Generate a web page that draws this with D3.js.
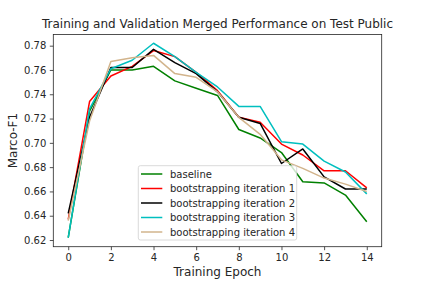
<!DOCTYPE html>
<html>
<head>
<meta charset="utf-8">
<script src="https://cdn.jsdelivr.net/npm/d3@7"></script>
<style>
  body { margin: 0; background: #fff; }
  text { font-family: "DejaVu Sans", sans-serif; fill: #262626; }
</style>
</head>
<body>
<div id="chart"></div>
<script>
var epochs = d3.range(0, 15);
var baseline = [0.622, 0.726, 0.760, 0.760, 0.763, 0.751, 0.745, 0.739, 0.711, 0.704, 0.692, 0.668, 0.667, 0.657, 0.635];
var iter1 = [0.637, 0.734, 0.755, 0.763, 0.776, 0.771, 0.758, 0.743, 0.721, 0.717, 0.699, 0.690, 0.677, 0.677, 0.663];
var iter2 = [0.642, 0.721, 0.762, 0.762, 0.777, 0.766, 0.757, 0.742, 0.721, 0.716, 0.683, 0.695, 0.672, 0.662, 0.662];
var iter3 = [0.622, 0.728, 0.761, 0.768, 0.782, 0.771, 0.758, 0.746, 0.730, 0.730, 0.701, 0.699, 0.685, 0.676, 0.658];
var iter4 = [0.636, 0.718, 0.767, 0.770, 0.772, 0.757, 0.754, 0.742, 0.721, 0.707, 0.686, 0.679, 0.671, 0.666, 0.660];
var seriesNames = ["baseline", "bootstrapping iteration 1", "bootstrapping iteration 2", "bootstrapping iteration 3", "bootstrapping iteration 4"];
var seriesColors = ["#008000", "#ff0000", "#000000", "#00bfbf", "#d2b48c"];
var xTicks = [0, 2, 4, 6, 8, 10, 12, 14];
var yTicks = [0.62, 0.64, 0.66, 0.68, 0.70, 0.72, 0.74, 0.76, 0.78];

var width = 423, height = 282;
var margin = {left: 53.3, right: 423 - 381.7, top: 34.5, bottom: 282 - 246.7};

var svg = d3.select("#chart").append("svg")
    .attr("width", width)
    .attr("height", height);

var x = d3.scaleLinear().domain([-0.7, 14.7]).range([margin.left, width - margin.right]);
var y = d3.scaleLinear().domain([0.6145, 0.7892]).range([height - margin.bottom, margin.top]);

var allSeries = [baseline, iter1, iter2, iter3, iter4];

var line = d3.line()
    .x(function(d, i) { return x(epochs[i]); })
    .y(function(d) { return y(d); });

svg.append("g").selectAll("path")
    .data(allSeries)
    .enter().append("path")
    .attr("d", line)
    .attr("fill", "none")
    .attr("stroke", function(d, i) { return seriesColors[i]; })
    .attr("stroke-width", 1.5)
    .attr("stroke-linejoin", "round");

// axes
var xAxis = svg.append("g")
    .attr("transform", "translate(0," + (height - margin.bottom) + ")")
    .call(d3.axisBottom(x).tickValues(xTicks).tickSize(3.5).tickPadding(3.5).tickSizeOuter(0));
var yAxis = svg.append("g")
    .attr("transform", "translate(" + margin.left + ",0)")
    .call(d3.axisLeft(y).tickValues(yTicks).tickFormat(d3.format(".2f")).tickSize(3.5).tickPadding(3.5).tickSizeOuter(0));
[xAxis, yAxis].forEach(function(a) {
    a.select(".domain").remove();
    a.selectAll("text").style("font-size", "10px").attr("fill", "#262626");
    a.selectAll("line").attr("stroke", "#262626").attr("stroke-width", 0.8);
});

svg.append("rect")
    .attr("x", margin.left).attr("y", margin.top)
    .attr("width", width - margin.left - margin.right)
    .attr("height", height - margin.top - margin.bottom)
    .attr("fill", "none").attr("stroke", "#262626").attr("stroke-width", 0.8);

// title & labels
svg.append("text")
    .attr("x", (margin.left + width - margin.right) / 2).attr("y", 28)
    .attr("text-anchor", "middle").style("font-size", "12px")
    .text("Training and Validation Merged Performance on Test Public");
svg.append("text")
    .attr("x", (margin.left + width - margin.right) / 2).attr("y", 276)
    .attr("text-anchor", "middle").style("font-size", "12px")
    .text("Training Epoch");
svg.append("text")
    .attr("transform", "translate(17," + ((margin.top + height - margin.bottom) / 2) + ") rotate(-90)")
    .attr("text-anchor", "middle").style("font-size", "12px")
    .text("Marco-F1");

// legend
var legend = svg.append("g").attr("transform", "translate(138.3,165.7)");
legend.append("rect")
    .attr("width", 158.4).attr("height", 74.3).attr("rx", 2)
    .attr("fill", "#fff").attr("fill-opacity", 0.8)
    .attr("stroke", "#d0d0d0").attr("stroke-width", 0.8);
var rows = legend.selectAll("g.row")
    .data(seriesNames)
    .enter().append("g")
    .attr("class", "row")
    .attr("transform", function(d, i) { return "translate(0," + (8.3 + i * 14.5) + ")"; });
rows.append("line")
    .attr("x1", 2.7).attr("x2", 24)
    .attr("stroke", function(d, i) { return seriesColors[i]; })
    .attr("stroke-width", 1.5);
rows.append("text")
    .attr("x", 31.7).attr("dy", "0.35em")
    .style("font-size", "10px")
    .text(function(d) { return d; });
</script>
</body>
</html>
